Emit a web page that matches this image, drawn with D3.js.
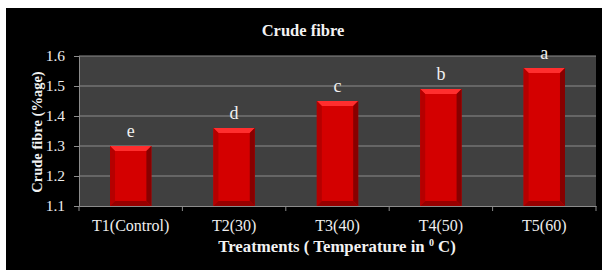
<!DOCTYPE html>
<html><head><meta charset="utf-8">
<script src="https://cdn.jsdelivr.net/npm/d3@7"></script>
<style>html,body{margin:0;padding:0;background:#fff;}svg{display:block;}</style>
</head><body>
<svg id="c" width="602" height="270"></svg>
<script>
const categories = ["T1(Control)", "T2(30)", "T3(40)", "T4(50)", "T5(60)"];
const values = [1.30, 1.36, 1.45, 1.49, 1.56];
const letters = ["e", "d", "c", "b", "a"];
const yTicks = [1.1, 1.2, 1.3, 1.4, 1.5, 1.6];

const svg = d3.select("#c");
const font = "'Liberation Serif', 'DejaVu Serif', serif";
svg.append("rect").attr("x", 6).attr("y", 8).attr("width", 596).attr("height", 262).attr("fill", "#000");

const L = 79, R = 596, T = 56, B = 206;
const x = d3.scaleBand().domain(categories).range([L, R]).paddingInner(0.6).paddingOuter(0.3);
const y = d3.scaleLinear().domain([1.1, 1.6]).range([B, T]);

svg.append("rect").attr("x", L).attr("y", T).attr("width", R - L).attr("height", B - T).attr("fill", "#404040");

// gridlines
svg.append("g").selectAll("line").data(yTicks.slice(1)).join("line")
  .attr("x1", L).attr("x2", R).attr("y1", d => y(d)).attr("y2", d => y(d))
  .attr("stroke", "#8c8c8c").attr("stroke-width", 1);

// y axis
const ya = svg.append("g").attr("transform", `translate(${L},0)`)
  .call(d3.axisLeft(y).tickValues(yTicks).tickFormat(d3.format(".1f")).tickSize(5).tickPadding(9));
ya.select(".domain").attr("stroke", "#8c8c8c");
ya.selectAll(".tick line").attr("stroke", "#8c8c8c");
ya.selectAll("text").attr("fill", "#eeeeee").attr("font-family", font).attr("font-size", 15.5);

// x axis
const xa = svg.append("g").attr("transform", `translate(0,${B})`)
  .call(d3.axisBottom(x).tickSize(0).tickPadding(14));
xa.select(".domain").attr("stroke", "#8c8c8c");
xa.selectAll("text").attr("fill", "#eeeeee").attr("font-family", font).attr("font-size", 16);
const bounds = d3.range(categories.length + 1).map(i => L + i * (R - L) / categories.length);
svg.append("g").selectAll("line").data(bounds).join("line")
  .attr("x1", d => d).attr("x2", d => d).attr("y1", B).attr("y2", B + 5)
  .attr("stroke", "#8c8c8c");

// bars with bevel
const bw = x.bandwidth();
const bv = 5;
const bars = svg.append("g").selectAll("g").data(categories.map((c, i) => ({c, v: values[i], l: letters[i]}))).join("g");
bars.each(function(d) {
  const g = d3.select(this);
  const x0 = x(d.c), x1 = x0 + bw, y0 = y(d.v), y1 = B;
  g.append("rect").attr("x", x0).attr("y", y0).attr("width", bw).attr("height", y1 - y0).attr("fill", "#d40000");
  g.append("polygon").attr("points", [[x0, y0], [x1, y0], [x1 - bv, y0 + bv], [x0 + bv, y0 + bv]].join(" ")).attr("fill", "#ff2e2e");
  g.append("polygon").attr("points", [[x0, y0], [x0 + bv, y0 + bv], [x0 + bv, y1 - bv], [x0, y1]].join(" ")).attr("fill", "#b50000");
  g.append("polygon").attr("points", [[x1, y0], [x1 - bv, y0 + bv], [x1 - bv, y1 - bv], [x1, y1]].join(" ")).attr("fill", "#880000");
  g.append("polygon").attr("points", [[x0, y1], [x0 + bv, y1 - bv], [x1 - bv, y1 - bv], [x1, y1]].join(" ")).attr("fill", "#980000");
  g.append("text").attr("x", x0 + bw / 2).attr("y", y0 - 9).attr("text-anchor", "middle")
    .attr("fill", "#f0f0f0").attr("font-family", font).attr("font-size", 18).text(d.l);
});

// title
svg.append("text").attr("x", 303).attr("y", 36).attr("text-anchor", "middle")
  .attr("fill", "#f2f2f2").attr("font-family", font).attr("font-weight", "bold").attr("font-size", 16.5).text("Crude fibre");

// y title
svg.append("text").attr("transform", "translate(42,132) rotate(-90)").attr("text-anchor", "middle")
  .attr("fill", "#f2f2f2").attr("font-family", font).attr("font-weight", "bold").attr("font-size", 14.5).text("Crude fibre (%age)");

// x title
const xt = svg.append("text").attr("x", 337).attr("y", 252).attr("text-anchor", "middle")
  .attr("fill", "#f2f2f2").attr("font-family", font).attr("font-weight", "bold").attr("font-size", 16.8);
xt.append("tspan").text("Treatments ( Temperature in ");
xt.append("tspan").attr("font-size", 10).attr("dy", -6).text("0");
xt.append("tspan").attr("dy", 6).text(" C)");
</script>
</body></html>
